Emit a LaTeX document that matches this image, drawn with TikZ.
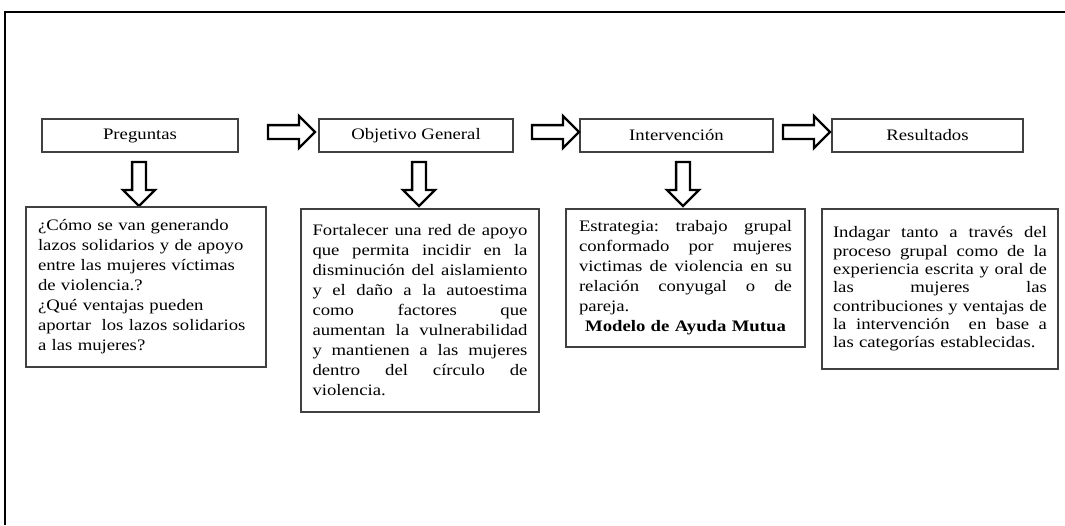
\documentclass[tikz,border=0pt]{standalone}
\usepackage{fontspec}
\setmainfont{Liberation Serif}[FakeStretch=1.17]
\usetikzlibrary{shapes.arrows}
\newcommand{\jl}[2]{\leavevmode\hbox to #1{\spaceskip=0.25em plus 1fil\xspaceskip=0.25em plus 1fil\relax #2}}
\begin{document}
\begin{tikzpicture}[x=1pt,y=-1pt,
  txt/.style={font=\fontsize{16}{20}\selectfont},
  titlebox/.style={txt, draw=black!75, line width=1.2pt, minimum width=#1, minimum height=33pt, inner sep=0pt},
  textbox/.style={txt, draw=black!75, line width=1.2pt, align=left, inner xsep=0pt, inner ysep=0pt},
  rarrow/.style={single arrow, draw=black, line width=2.4pt, minimum height=47pt, minimum width=30pt, inner sep=5.75pt, single arrow head extend=9pt},
  darrow/.style={rarrow, minimum height=44pt, shape border rotate=270}]
\useasboundingbox (0,0) rectangle (1065,525);
% outer frame
\draw[line width=2pt] (5,525) -- (5,12) -- (1065,12);
% title boxes
\node[titlebox=196pt] (p) at (140,135.5) {Preguntas};
\node[titlebox=194pt] (o) at (416,135.5) {Objetivo General};
\node[titlebox=193pt] (i) at (676.5,135.5) {Intervención};
\node[titlebox=191pt] (r) at (927.5,135.5) {Resultados};
% right block arrows
\node[rarrow] (a1) at (288,132) {};
\node[rarrow] (a2) at (552,132) {};
\node[rarrow] (a3) at (803,132) {};
% down block arrows
\node[darrow] (d1) at (139,180.5) {};
\node[darrow] (d2) at (419,180.5) {};
\node[darrow] (d3) at (683,180.5) {};
% text boxes
\node[textbox, minimum width=240pt, minimum height=160pt, text width=216pt] (q1) at (146,287) {%
¿Cómo se van generando\\
lazos solidarios y de apoyo\\
entre las mujeres víctimas\\
de violencia.?\\
¿Qué ventajas pueden\\
aportar\ \ los lazos solidarios\\
a las mujeres?};
\node[textbox, minimum width=238pt, minimum height=203pt, text width=215pt] (q2) at (420,310.5) {%
\jl{215pt}{Fortalecer una red de apoyo}\\
\jl{215pt}{que permita incidir en la}\\
\jl{215pt}{disminución del aislamiento}\\
\jl{215pt}{y el daño a la autoestima}\\
\jl{215pt}{como factores que}\\
\jl{215pt}{aumentan la vulnerabilidad}\\
\jl{215pt}{y mantienen a las mujeres}\\
\jl{215pt}{dentro del círculo de}\\
violencia.};
\node[textbox, minimum width=239pt, minimum height=138pt, text width=213pt] (q3) at (685.5,278) {%
\jl{213pt}{Estrategia: trabajo grupal}\\
\jl{213pt}{conformado por mujeres}\\
\jl{213pt}{victimas de violencia en su}\\
\jl{213pt}{relación conyugal o de}\\
pareja.\\
\makebox[213pt][c]{\bfseries Modelo de Ayuda Mutua}};
\node[textbox, minimum width=236pt, minimum height=160pt, text width=214pt, font=\fontsize{16}{18.3}\selectfont] (q4) at (940,289) {%
\jl{214pt}{Indagar tanto a través del}\\
\jl{214pt}{proceso grupal como de la}\\
\jl{214pt}{experiencia escrita y oral de}\\
\jl{214pt}{las mujeres las}\\
\jl{214pt}{contribuciones y ventajas de}\\
\jl{214pt}{la intervención\ \ en base a}\\
las categorías establecidas.};
\end{tikzpicture}
\end{document}
